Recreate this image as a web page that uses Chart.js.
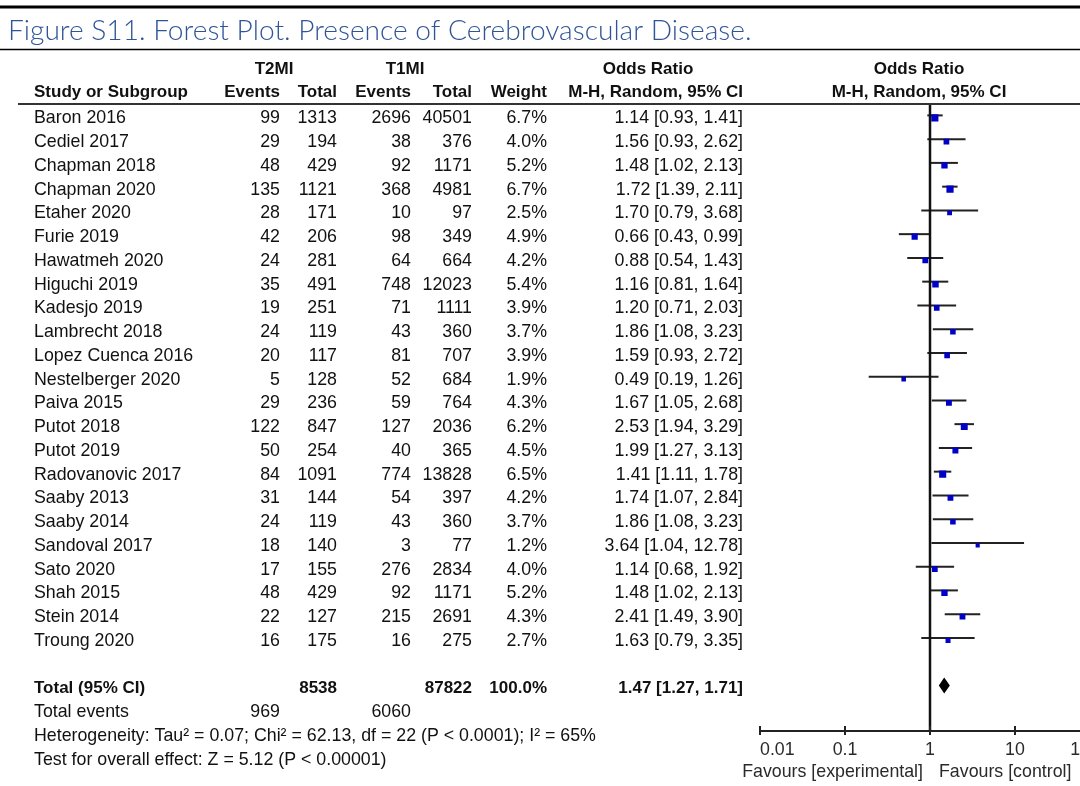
<!DOCTYPE html>
<html>
<head>
<meta charset="utf-8">
<title>Forest plot – cerebrovascular disease</title>
<script src="https://cdn.jsdelivr.net/npm/chart.js@4.4.1/dist/chart.umd.min.js"></script>
<style>
  html, body { margin: 0; padding: 0; background: #fff; }
  #wrap { position: relative; width: 1080px; height: 786px; overflow: hidden; }
  canvas { display: block; }
</style>
</head>
<body>
<div id="wrap"><canvas id="forest" width="1120" height="786"></canvas></div>
<script>
// ---- study data ----
const studies = ['Baron 2016', 'Cediel 2017', 'Chapman 2018', 'Chapman 2020', 'Etaher 2020', 'Furie 2019',
  'Hawatmeh 2020', 'Higuchi 2019', 'Kadesjo 2019', 'Lambrecht 2018', 'Lopez Cuenca 2016', 'Nestelberger 2020',
  'Paiva 2015', 'Putot 2018', 'Putot 2019', 'Radovanovic 2017', 'Saaby 2013', 'Saaby 2014', 'Sandoval 2017',
  'Sato 2020', 'Shah 2015', 'Stein 2014', 'Troung 2020'];
const t2Events = [99, 29, 48, 135, 28, 42, 24, 35, 19, 24, 20, 5, 29, 122, 50, 84, 31, 24, 18, 17, 48, 22, 16];
const t2Total = [1313, 194, 429, 1121, 171, 206, 281, 491, 251, 119, 117, 128, 236, 847, 254, 1091, 144, 119, 140, 155, 429, 127, 175];
const t1Events = [2696, 38, 92, 368, 10, 98, 64, 748, 71, 43, 81, 52, 59, 127, 40, 774, 54, 43, 3, 276, 92, 215, 16];
const t1Total = [40501, 376, 1171, 4981, 97, 349, 664, 12023, 1111, 360, 707, 684, 764, 2036, 365, 13828, 397, 360, 77, 2834, 1171, 2691, 275];
const weights = [6.7, 4.0, 5.2, 6.7, 2.5, 4.9, 4.2, 5.4, 3.9, 3.7, 3.9, 1.9, 4.3, 6.2, 4.5, 6.5, 4.2, 3.7, 1.2, 4.0, 5.2, 4.3, 2.7];
const oddsRatio = [1.14, 1.56, 1.48, 1.72, 1.70, 0.66, 0.88, 1.16, 1.20, 1.86, 1.59, 0.49, 1.67, 2.53, 1.99, 1.41, 1.74, 1.86, 3.64, 1.14, 1.48, 2.41, 1.63];
const ciLow = [0.93, 0.93, 1.02, 1.39, 0.79, 0.43, 0.54, 0.81, 0.71, 1.08, 0.93, 0.19, 1.05, 1.94, 1.27, 1.11, 1.07, 1.08, 1.04, 0.68, 1.02, 1.49, 0.79];
const ciHigh = [1.41, 2.62, 2.13, 2.11, 3.68, 0.99, 1.43, 1.64, 2.03, 3.23, 2.72, 1.26, 2.68, 3.29, 3.13, 1.78, 2.84, 3.23, 12.78, 1.92, 2.13, 3.90, 3.35];

// pooled estimate [OR, lower, upper]
const pooledOR = [1.47, 1.27, 1.71];
const pooledTotals = ['8538', '87822', '100.0%'];
const totalEvents = ['969', '6060'];
const footnotes = [
  'Heterogeneity: Tau\u00b2 = 0.07; Chi\u00b2 = 62.13, df = 22 (P < 0.0001); I\u00b2 = 65%',
  'Test for overall effect: Z = 5.12 (P < 0.00001)'
];
const tickValues = [0.01, 0.1, 1, 10, 100];
const tickLabels = ['0.01', '0.1', '1', '10', '100'];
const favourLabels = ['Favours [experimental]', 'Favours [control]'];
const titleText = 'Figure S11. Forest Plot. Presence of Cerebrovascular Disease.';

// ---- layout ----
const ROW_MIN = -0.48, ROW_MAX = 25.92;
const totalRow = studies.length + 1;
const FONT = '"Liberation Sans", Arial, Helvetica, sans-serif';
const TEXT = '#111';
const REG = `17.8px ${FONT}`;
const BOLD = `bold 17px ${FONT}`;

const fmt2 = v => v.toFixed(2);
const ciText = (o, l, h) => `${fmt2(o)} [${fmt2(l)}, ${fmt2(h)}]`;

const whiskerSets = studies.map((s, i) => ({
  label: s,
  data: [{ x: ciLow[i], y: i }, { x: ciHigh[i], y: i }],
  showLine: true,
  borderColor: '#222',
  borderWidth: 2,
  pointRadius: 0
}));

// squares hang just under their CI line
const squareShift = {
  id: 'squareShift',
  beforeDatasetDraw(chart, args) {
    if (args.index !== 0) return;
    chart.ctx.save();
    chart.ctx.translate(0, 2.5);
  },
  afterDatasetDraw(chart, args) {
    if (args.index !== 0) return;
    chart.ctx.restore();
  }
};

const tablePlugin = {
  id: 'forestTable',
  afterDatasetsDraw(chart) {
    const { ctx, scales: { x, y } } = chart;
    // pooled diamond
    const yc = y.getPixelForValue(totalRow);
    ctx.save();
    ctx.fillStyle = '#000';
    ctx.beginPath();
    ctx.moveTo(x.getPixelForValue(pooledOR[1]), yc);
    ctx.lineTo(x.getPixelForValue(pooledOR[0]), yc - 8);
    ctx.lineTo(x.getPixelForValue(pooledOR[2]), yc);
    ctx.lineTo(x.getPixelForValue(pooledOR[0]), yc + 8);
    ctx.closePath();
    ctx.fill();
    ctx.restore();
  },
  afterDraw(chart) {
    const { ctx, scales: { x, y }, chartArea } = chart;
    const rowY = r => y.getPixelForValue(r) + 3;
    const put = (txt, px, py, align, bold) => {
      ctx.font = bold ? BOLD : REG;
      ctx.textAlign = align;
      ctx.fillText(txt, px, py);
    };
    ctx.save();

    // rules
    ctx.strokeStyle = '#000';
    ctx.lineWidth = 3;
    ctx.beginPath(); ctx.moveTo(0, 7); ctx.lineTo(1120, 7); ctx.stroke();
    ctx.lineWidth = 1.5;
    ctx.beginPath(); ctx.moveTo(0, 49.5); ctx.lineTo(1120, 49.5); ctx.stroke();
    ctx.strokeStyle = '#333';
    ctx.lineWidth = 2;
    ctx.beginPath(); ctx.moveTo(18, 104); ctx.lineTo(1120, 104); ctx.stroke();

    // title
    ctx.fillStyle = '#2f5597';
    ctx.textAlign = 'left';
    ctx.textBaseline = 'alphabetic';
    ctx.font = `300 24px Lato, "Open Sans", sans-serif`;
    const w = ctx.measureText(titleText).width;
    ctx.font = `300 ${(24 * 744 / w).toFixed(2)}px Lato, "Open Sans", sans-serif`;
    ctx.fillText(titleText, 8, 40);

    ctx.fillStyle = TEXT;
    ctx.textBaseline = 'middle';

    // column headers
    put('T2MI', 274, 69, 'center', true);
    put('T1MI', 405, 69, 'center', true);
    put('Odds Ratio', 648, 69, 'center', true);
    put('Odds Ratio', 919, 69, 'center', true);
    put('Study or Subgroup', 34, 92, 'left', true);
    put('Events', 280, 92, 'right', true);
    put('Total', 337, 92, 'right', true);
    put('Events', 411, 92, 'right', true);
    put('Total', 472, 92, 'right', true);
    put('Weight', 547, 92, 'right', true);
    put('M-H, Random, 95% CI', 743, 92, 'right', true);
    put('M-H, Random, 95% CI', 919, 92, 'center', true);

    // study rows
    studies.forEach((s, i) => {
      const py = rowY(i);
      put(s, 34, py, 'left');
      put(String(t2Events[i]), 280, py, 'right');
      put(String(t2Total[i]), 337, py, 'right');
      put(String(t1Events[i]), 411, py, 'right');
      put(String(t1Total[i]), 472, py, 'right');
      put(weights[i].toFixed(1) + '%', 547, py, 'right');
      put(ciText(oddsRatio[i], ciLow[i], ciHigh[i]), 743, py, 'right');
    });

    // pooled rows
    let py = rowY(totalRow);
    put('Total (95% CI)', 34, py, 'left', true);
    put(pooledTotals[0], 337, py, 'right', true);
    put(pooledTotals[1], 472, py, 'right', true);
    put(pooledTotals[2], 547, py, 'right', true);
    put(ciText(pooledOR[0], pooledOR[1], pooledOR[2]), 743, py, 'right', true);
    py = rowY(totalRow + 1);
    put('Total events', 34, py, 'left');
    put(totalEvents[0], 280, py, 'right');
    put(totalEvents[1], 411, py, 'right');
    put(footnotes[0], 34, rowY(totalRow + 2), 'left');
    put(footnotes[1], 34, rowY(totalRow + 3), 'left');

    // tick marks across the axis line
    ctx.strokeStyle = '#222';
    ctx.lineWidth = 2;
    tickValues.forEach(v => {
      const px = x.getPixelForValue(v);
      ctx.beginPath();
      ctx.moveTo(px, chartArea.bottom - 5);
      ctx.lineTo(px, chartArea.bottom + 4);
      ctx.stroke();
    });

    // favours labels
    const one = x.getPixelForValue(1);
    ctx.fillStyle = '#2a2a2a';
    put(favourLabels[0], one - 7, 772, 'right');
    put(favourLabels[1], one + 9, 772, 'left');
    ctx.restore();
  }
};

new Chart(document.getElementById('forest'), {
  type: 'scatter',
  data: {
    datasets: [
      {
        label: 'Odds ratio',
        data: studies.map((s, i) => ({ x: oddsRatio[i], y: i })),
        pointStyle: 'rect',
        pointRadius: c => (3.5 + 0.55 * weights[c.dataIndex]) / Math.SQRT2,
        backgroundColor: '#0000c8',
        borderWidth: 0
      },
      {
        label: 'No effect',
        data: [{ x: 1, y: ROW_MIN }, { x: 1, y: ROW_MAX }],
        showLine: true,
        borderColor: '#111',
        borderWidth: 2.5,
        pointRadius: 0
      },
      ...whiskerSets
    ]
  },
  options: {
    responsive: false,
    animation: false,
    events: [],
    layout: { padding: { left: 760, right: 20, top: 104, bottom: 0 } },
    plugins: { legend: { display: false }, tooltip: { enabled: false } },
    scales: {
      x: {
        type: 'logarithmic',
        min: 0.01,
        max: 100,
        afterBuildTicks: s => { s.ticks = tickValues.map(v => ({ value: v })); },
        afterFit: s => { s.height = 55; },
        border: { display: true, color: '#222', width: 2 },
        grid: { display: false, drawTicks: false },
        ticks: {
          padding: 8,
          align: 'inner',
          color: '#2a2a2a',
          font: { family: FONT, size: 17.8 },
          maxRotation: 0,
          autoSkip: false,
          callback: (v) => tickLabels[tickValues.indexOf(v)] ?? ''
        }
      },
      y: {
        type: 'linear',
        display: false,
        reverse: true,
        min: ROW_MIN,
        max: ROW_MAX
      }
    }
  },
  plugins: [squareShift, tablePlugin]
});
</script>
</body>
</html>
